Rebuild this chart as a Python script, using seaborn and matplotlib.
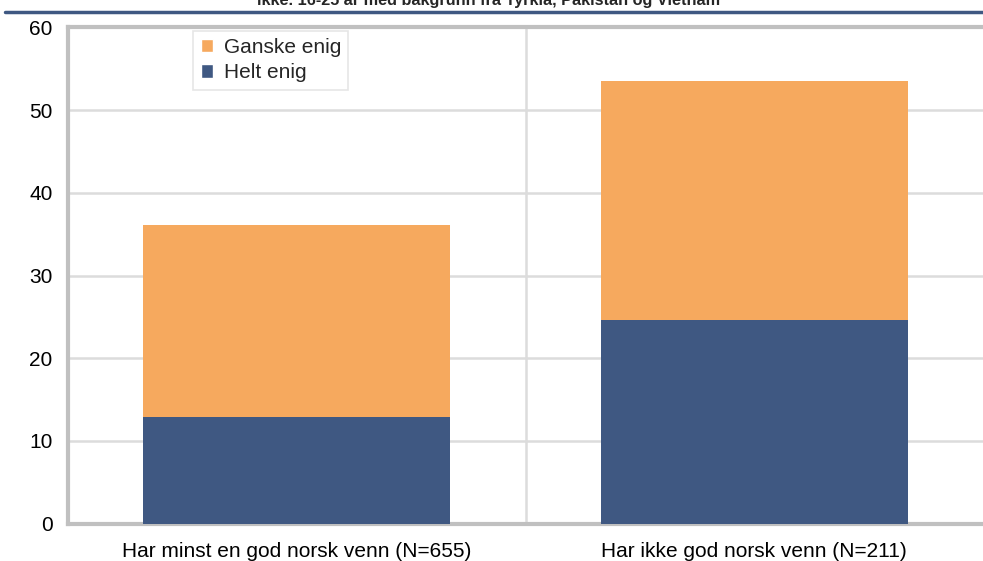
import matplotlib
matplotlib.use("Agg")
import matplotlib.pyplot as plt
from matplotlib.lines import Line2D
from matplotlib.patches import Patch
import seaborn as sns
import pandas as pd

# data
categories = ["Har minst en god norsk venn (N=655)", "Har ikke god norsk venn (N=211)"]
helt_enig = [12.9, 24.6]
ganske_enig = [23.2, 28.9]
title = "ikke. 16-25 år med bakgrunn fra Tyrkia, Pakistan og Vietnam"

orange = "#F6A95E"
blue = "#3F5882"
grey = "#C0C0C0"

sns.set_theme(style="white")
plt.rcParams["font.family"] = ["Liberation Sans", "DejaVu Sans"]

df = pd.DataFrame({
    "kategori": categories,
    "helt": helt_enig,
    "total": [h + g for h, g in zip(helt_enig, ganske_enig)],
})

fig = plt.figure(figsize=(9.83, 5.61), dpi=100)
ax = fig.add_axes([68 / 983, (561 - 523.75) / 561, 915 / 983, (523.75 - 27.25) / 561])

sns.barplot(data=df, x="kategori", y="total", color=orange, width=0.67,
            saturation=1, linewidth=0, ax=ax, zorder=3)
sns.barplot(data=df, x="kategori", y="helt", color=blue, width=0.67,
            saturation=1, linewidth=0, ax=ax, zorder=4)

ax.set_xlim(-0.5, 1.5)
ax.set_ylim(0, 60)
ax.set_yticks(range(0, 61, 10))
ax.set_xlabel("")
ax.set_ylabel("")
ax.tick_params(axis="both", length=0, labelsize=15, colors="black")
ax.tick_params(axis="y", pad=11)
ax.tick_params(axis="x", pad=13)

# gridlines
for y in range(10, 60, 10):
    ax.axhline(y, color="#DCDCDC", lw=1.8, zorder=1)
ax.axvline(0.5, color="#DCDCDC", lw=1.8, zorder=1)

for side in ["left", "bottom", "top"]:
    ax.spines[side].set_color(grey)
    ax.spines[side].set_linewidth(3)
ax.spines["right"].set_visible(False)

handles = [Patch(facecolor=orange, label="Ganske enig"),
           Patch(facecolor=blue, label="Helt enig")]
leg = ax.legend(handles=handles, loc="upper left", bbox_to_anchor=(0.137, 0.993),
                fontsize=15, frameon=True, fancybox=False, handlelength=0.6,
                handleheight=0.6, handletextpad=0.5, borderpad=0.35,
                labelspacing=0.3, borderaxespad=0)
leg.get_frame().set_edgecolor("#E0E0E0")
leg.get_frame().set_linewidth(1.2)

# cut-off title and dark rule above the plot
fig.text(0.497, 1.0, title, ha="center", va="center", fontsize=11.7,
         fontweight="bold")
fig.add_artist(Line2D([5 / 983, 1], [1 - 12 / 561, 1 - 12 / 561],
                      color=blue, lw=2.5, transform=fig.transFigure))

fig.savefig("out.png", dpi=100)
